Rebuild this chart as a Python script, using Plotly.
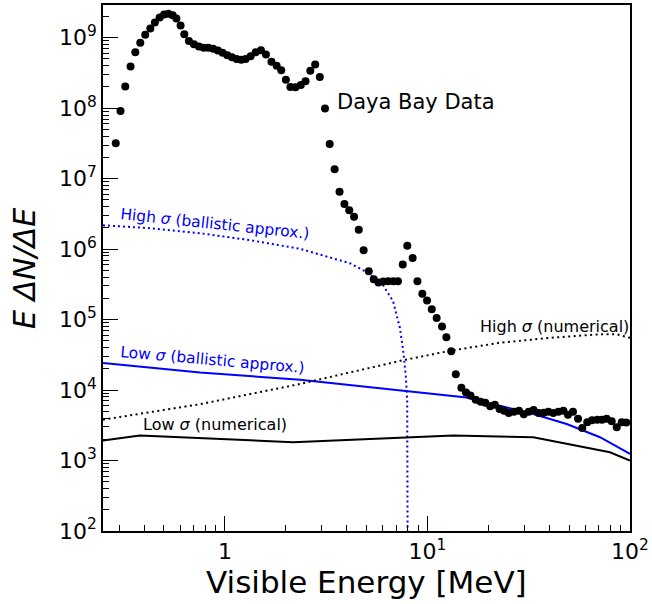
import math
import plotly.graph_objects as go

# ---- Daya Bay data (visible energy in MeV, E dN/dE) ----
E_data = [0.289, 0.305, 0.322, 0.342, 0.361, 0.382, 0.404, 0.428, 0.451, 0.476,
          0.501, 0.526, 0.552, 0.576, 0.604, 0.630, 0.664, 0.703, 0.744, 0.785,
          0.827, 0.875, 0.923, 0.974, 1.027, 1.083, 1.142, 1.204, 1.265, 1.339,
          1.418, 1.506, 1.594, 1.697, 1.80, 1.897, 2.00, 2.105, 2.23, 2.37,
          2.50, 2.64, 2.79, 2.94, 3.12, 3.29, 3.48, 3.68, 3.89, 4.11,
          4.34, 4.58, 4.84, 5.13, 5.43, 5.73, 6.05, 6.40, 6.78, 7.15,
          7.55, 7.95, 8.45, 8.92, 9.43, 9.95, 10.5, 11.1, 11.8, 12.4,
          13.1, 13.8, 14.7, 15.5, 16.3, 17.3, 18.3, 19.3, 20.4, 21.5,
          22.7, 23.9, 25.2, 26.7, 28.3, 29.9, 31.6, 33.4, 35.4, 37.5,
          39.5, 41.8, 44.3, 46.9, 49.4, 52.3, 55.4, 58.1, 61.5, 64.9,
          68.9, 72.7, 76.7, 81.2, 86.0, 91.0, 95.9]
Y_data = [3.18e7, 9.1e7, 2.03e8, 3.9e8, 6.2e8, 8.5e8, 1.10e9, 1.35e9, 1.64e9, 1.94e9,
          2.14e9, 2.19e9, 2.08e9, 1.87e9, 1.49e9, 1.12e9, 9.0e8, 8.1e8, 7.5e8, 7.2e8,
          7.2e8, 6.95e8, 6.6e8, 6.1e8, 5.65e8, 5.3e8, 5.0e8, 4.85e8, 4.97e8, 5.47e8,
          6.2e8, 6.65e8, 5.77e8, 4.55e8, 3.99e8, 3.45e8, 2.53e8, 2.0e8, 1.98e8, 2.14e8,
          2.41e8, 3.39e8, 4.17e8, 2.77e8, 9.9e7, 3.10e7, 1.36e7, 6.5e6, 4.35e6, 3.55e6,
          2.87e6, 1.89e6, 9.6e5, 4.86e5, 3.75e5, 3.35e5, 3.48e5, 3.51e5, 3.51e5, 3.51e5,
          6.05e5, 1.12e6, 7.5e5, 3.49e5, 2.32e5, 1.86e5, 1.40e5, 1.05e5, 8.0e4, 5.6e4,
          3.56e4, 1.67e4, 1.08e4, 9.2e3, 8.4e3, 7.3e3, 6.8e3, 6.6e3, 5.9e3, 6.2e3,
          5.4e3, 5.1e3, 4.73e3, 4.93e3, 5.1e3, 4.52e3, 4.93e3, 5.2e3, 4.73e3, 4.78e3,
          4.93e3, 4.73e3, 4.93e3, 5.1e3, 4.48e3, 4.93e3, 3.92e3, 2.9e3, 3.48e3, 3.72e3,
          3.8e3, 3.8e3, 3.92e3, 3.6e3, 2.96e3, 3.48e3, 3.46e3]

# ---- High sigma, ballistic approximation (blue dotted) ----
E_high_ball = [0.25, 0.426, 0.753, 1.33, 2.35, 3.41, 4.14, 5.02, 6.03, 6.76,
               7.31, 7.59, 7.83, 7.94, 7.97, 7.99, 7.995]
Y_high_ball = [2.18e6, 1.98e6, 1.68e6, 1.34e6, 1.01e6, 7.5e5, 6.3e5, 4.7e5, 3.08e5, 1.83e5,
               7.6e4, 3.6e4, 1.49e4, 7.1e3, 1.38e3, 1.0e2, 1.0e1]

# ---- Low sigma, ballistic approximation (blue solid) ----
E_low_ball = [0.25, 0.753, 2.35, 7.33, 15.6, 33.3, 48.7, 71.1, 100.0]
Y_low_ball = [2.43e4, 1.77e4, 1.40e4, 9.8e3, 7.85e3, 4.58e3, 3.3e3, 2.14e3, 1.24e3]

# ---- High sigma, numerical (black dotted) ----
E_high_num = [0.25, 0.753, 2.35, 7.33, 12.9, 22.8, 40.3, 71.1, 86.0, 100.0]
Y_high_num = [3.8e3, 6.3e3, 1.22e4, 2.6e4, 3.6e4, 4.7e4, 5.5e4, 6.2e4, 6.2e4, 5.5e4]

# ---- Low sigma, numerical (black solid) ----
E_low_num = [0.25, 0.380, 2.17, 13.4, 33.3, 79.6, 100.0]
Y_low_num = [1.92e3, 2.26e3, 1.82e3, 2.26e3, 2.14e3, 1.31e3, 1.0e3]

# ---- Ticks ----
x_tickvals = [1, 10, 100]
x_ticktext = ["1", "10<sup>1</sup>", "10<sup>2</sup>"]
y_tickvals = [1e2, 1e3, 1e4, 1e5, 1e6, 1e7, 1e8, 1e9]
y_ticktext = ["10<sup>%d</sup>" % k for k in range(2, 10)]

x_minor = [m * 10 ** k for k in (-1, 0, 1) for m in range(2, 10) if 0.25 <= m * 10 ** k <= 100]
y_minor = [m * 10 ** k for k in range(2, 10) for m in range(2, 10) if m * 10 ** k <= 3e9]

FONT = "DejaVu Sans"
BLUE = "#0000ff"

fig = go.Figure()
fig.add_trace(go.Scatter(x=E_high_ball, y=Y_high_ball, mode="lines",
                         line=dict(color=BLUE, width=2, dash="2px,3px")))
fig.add_trace(go.Scatter(x=E_low_ball, y=Y_low_ball, mode="lines",
                         line=dict(color=BLUE, width=2)))
fig.add_trace(go.Scatter(x=E_high_num, y=Y_high_num, mode="lines",
                         line=dict(color="black", width=2, dash="2px,3.5px")))
fig.add_trace(go.Scatter(x=E_low_num, y=Y_low_num, mode="lines",
                         line=dict(color="black", width=2)))
fig.add_trace(go.Scatter(x=E_data, y=Y_data, mode="markers",
                         marker=dict(color="black", size=8, line=dict(width=0))))

axis_common = dict(
    type="log", showgrid=False, zeroline=False,
    showline=True, linecolor="black", linewidth=1.5, mirror=True,
    ticks="inside", ticklen=15, tickwidth=1.2, tickcolor="black",
    tickfont=dict(family=FONT, size=22, color="black"),
)

fig.update_xaxes(**axis_common, range=[math.log10(0.25), 2],
                 tickmode="array", tickvals=x_tickvals, ticktext=x_ticktext,
                 minor=dict(tickmode="array", tickvals=x_minor, ticks="inside",
                            ticklen=6, tickwidth=1, tickcolor="black"))
fig.update_yaxes(**axis_common, range=[2, 9.464],
                 tickmode="array", tickvals=y_tickvals, ticktext=y_ticktext,
                 minor=dict(tickmode="array", tickvals=y_minor, ticks="inside",
                            ticklen=6, tickwidth=1, tickcolor="black"))

annotations = [
    dict(text="Daya Bay Data", x=math.log10(3.50), y=8.09, xanchor="left", yanchor="middle",
         font=dict(family=FONT, size=21, color="black")),
    dict(text="High <i>σ</i> (ballistic approx.)", x=-0.048, y=6.36, textangle=6,
         font=dict(family=FONT, size=15.5, color=BLUE)),
    dict(text="Low <i>σ</i> (ballistic approx.)", x=-0.063, y=4.43, textangle=5,
         font=dict(family=FONT, size=15.5, color=BLUE)),
    dict(text="High <i>σ</i> (numerical)", x=1.625, y=4.909,
         font=dict(family=FONT, size=16, color="black")),
    dict(text="Low <i>σ</i> (numerical)", x=-0.049, y=3.509,
         font=dict(family=FONT, size=16, color="black")),
]
for a in annotations:
    a.update(xref="x", yref="y", showarrow=False)

annotations.append(dict(text="Visible Energy [MeV]", xref="paper", yref="paper",
                        x=0.5, y=-0.0966, xanchor="center", yanchor="middle", showarrow=False,
                        font=dict(family=FONT, size=31, color="black")))
annotations.append(dict(text="<i>E ΔN/ΔE</i>", xref="paper", yref="paper",
                        x=-0.15, y=0.5, xanchor="center", yanchor="middle", showarrow=False,
                        textangle=-90, font=dict(family=FONT, size=30, color="black")))

fig.update_layout(
    width=652, height=604,
    margin=dict(l=103, r=22, t=3, b=73),
    paper_bgcolor="white", plot_bgcolor="white",
    showlegend=False,
    annotations=annotations,
    font=dict(family=FONT),
)

fig.write_html("out.html")
